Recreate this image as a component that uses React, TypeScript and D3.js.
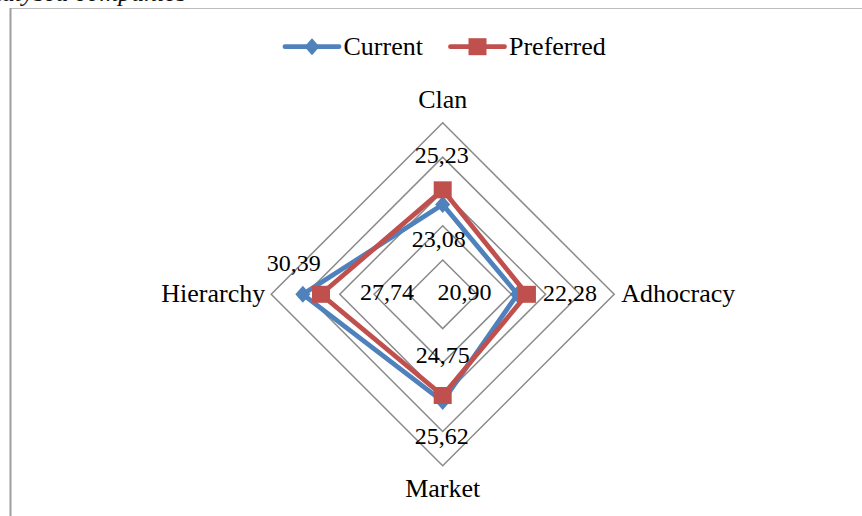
import React, { useEffect, useRef } from "react";
import * as d3 from "d3";

// categories clockwise from the top
const categories = ["Clan", "Adhocracy", "Market", "Hierarchy"];
const currentValues = [23.08, 20.9, 25.62, 30.39];
const preferredValues = [25.23, 22.28, 24.75, 27.74];
const seriesNames = ["Current", "Preferred"];
const gridTicks = [15, 20, 25, 30, 35];

const W = 862;
const H = 516;
const FONT = "'Liberation Serif', 'Times New Roman', serif";

const App = () => {
  const svgRef = useRef(null);

  useEffect(() => {
    const svg = d3.select(svgRef.current);
    svg.selectAll("*").remove();

    const cx = 442.7;
    const cy = 294.3;
    const R = 171.5;

    const r = d3.scaleLinear().domain([10, 35]).range([0, R]);
    const angle = (i: number) => (i * 2 * Math.PI) / categories.length;
    const px = (i: number, v: number) => cx + r(v) * Math.sin(angle(i));
    const py = (i: number, v: number) => cy - r(v) * Math.cos(angle(i));

    // frame bits + the caption of the page above, cut by the crop
    svg.append("line").attr("x1", 10).attr("x2", W).attr("y1", 8.5).attr("y2", 8.5)
      .attr("stroke", "#BDBDBD").attr("stroke-width", 1);
    svg.append("line").attr("x1", 10.5).attr("x2", 10.5).attr("y1", 8).attr("y2", H)
      .attr("stroke", "#9E9E9E").attr("stroke-width", 2);
    svg.append("text").attr("x", -24).attr("y", 1)
      .attr("font-family", FONT).attr("font-style", "italic").attr("font-size", 26)
      .attr("fill", "#111").text("analysed companies");

    const g = svg.append("g");

    // grid diamonds
    const ringLine = d3.lineRadial<number>()
      .angle((_, i) => angle(i))
      .curve(d3.curveLinearClosed);
    gridTicks.forEach((t) => {
      g.append("path")
        .attr("transform", `translate(${cx},${cy})`)
        .attr("d", ringLine.radius(() => r(t))(categories.map(() => t)))
        .attr("fill", "none")
        .attr("stroke", "#8A8A8A")
        .attr("stroke-width", 1.5);
    });

    // category labels
    const catPos = [
      { x: cx, y: cy - R - 15, anchor: "middle" },
      { x: cx + R + 7, y: cy + 8, anchor: "start" },
      { x: cx, y: cy + R + 31, anchor: "middle" },
      { x: cx - R - 6, y: cy + 8, anchor: "end" },
    ];
    categories.forEach((c, i) => {
      g.append("text")
        .attr("x", catPos[i].x).attr("y", catPos[i].y)
        .attr("text-anchor", catPos[i].anchor)
        .attr("font-family", FONT).attr("font-size", 26).attr("fill", "#000")
        .text(c);
    });

    const series = [
      { name: seriesNames[0], values: currentValues, color: "#4F81BD", marker: "diamond",
        offsets: [[-4, 42], [-53, 6], [-1, 42.5], [-9, -23]] },
      { name: seriesNames[1], values: preferredValues, color: "#C0504D", marker: "square",
        offsets: [[-1, -27], [43, 7], [0, -32.5], [66, 6]] },
    ];

    const drawMarker = (sel, kind: string, x: number, y: number, color: string) => {
      if (kind === "square") {
        sel.append("rect").attr("x", x - 9).attr("y", y - 8.5)
          .attr("width", 18).attr("height", 17).attr("fill", color);
      } else {
        sel.append("path")
          .attr("d", `M${x},${y - 8.5}L${x + 7.5},${y}L${x},${y + 8.5}L${x - 7.5},${y}Z`)
          .attr("fill", color);
      }
    };

    const polyLine = d3.line<number>()
      .x((v, i) => px(i, v))
      .y((v, i) => py(i, v))
      .curve(d3.curveLinearClosed);

    series.forEach((s) => {
      g.append("path")
        .attr("d", polyLine(s.values))
        .attr("fill", "none")
        .attr("stroke", s.color)
        .attr("stroke-width", 4.8)
        .attr("stroke-linejoin", "round");
      s.values.forEach((v, i) => drawMarker(g, s.marker, px(i, v), py(i, v), s.color));
    });

    // data labels
    series.forEach((s) => {
      s.values.forEach((v, i) => {
        g.append("text")
          .attr("x", px(i, v) + s.offsets[i][0])
          .attr("y", py(i, v) + s.offsets[i][1])
          .attr("text-anchor", "middle")
          .attr("font-family", FONT).attr("font-size", 24).attr("fill", "#000")
          .text(d3.format(".2f")(v).replace(".", ","));
      });
    });

    // legend
    const legend = svg.append("g");
    const legendX = [285, 450.5];
    series.forEach((s, k) => {
      const x0 = legendX[k];
      const ly = 46.7;
      legend.append("line").attr("x1", x0).attr("x2", x0 + 54).attr("y1", ly).attr("y2", ly)
        .attr("stroke", s.color).attr("stroke-width", 4.8).attr("stroke-linecap", "round");
      drawMarker(legend, s.marker, x0 + 27, ly, s.color);
      legend.append("text").attr("x", x0 + 58.5).attr("y", 55)
        .attr("font-family", FONT).attr("font-size", 26).attr("fill", "#000")
        .text(s.name);
    });
  }, []);

  return (
    <svg
      ref={svgRef}
      width={W}
      height={H}
      style={{ position: "absolute", left: 0, top: 0, background: "#fff" }}
    />
  );
};

export default App;
